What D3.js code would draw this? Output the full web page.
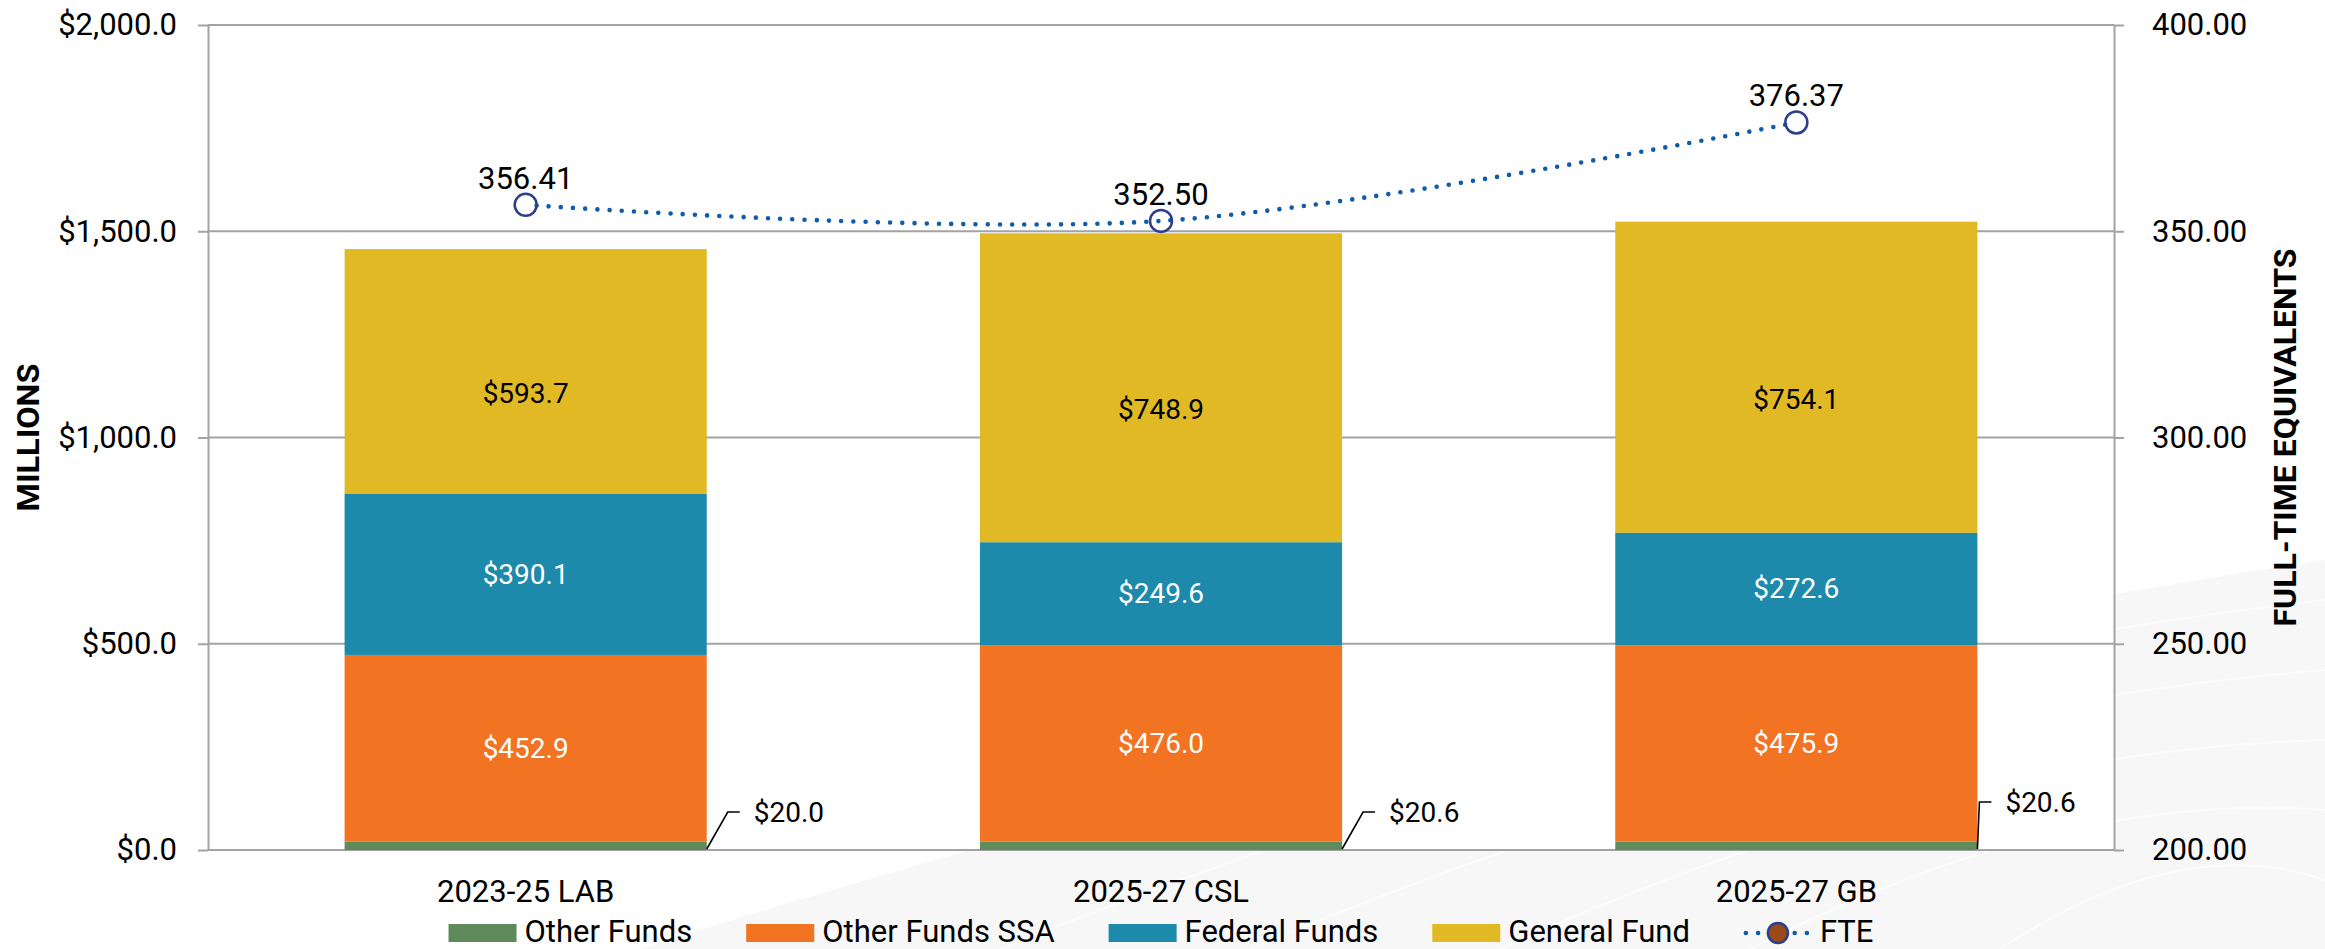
<!DOCTYPE html>
<html>
<head>
<meta charset="utf-8">
<script src="https://d3js.org/d3.v7.min.js"></script>
<style>
  body { margin: 0; background: #fff; }
  svg { display: block; font-family: Roboto, "Liberation Sans", sans-serif; }
</style>
</head>
<body>
<div id="chart"></div>
<script>
// data
var categories = ["2023-25 LAB", "2025-27 CSL", "2025-27 GB"];
var otherFunds = [20.0, 20.6, 20.6];
var otherFundsSSA = [452.9, 476.0, 475.9];
var federalFunds = [390.1, 249.6, 272.6];
var generalFund = [593.7, 748.9, 754.1];
var fte = [356.41, 352.50, 376.37];
var moneyTicks = [0, 500, 1000, 1500, 2000];
var fteTicks = [200, 250, 300, 350, 400];
var seriesNames = ["Other Funds", "Other Funds SSA", "Federal Funds", "General Fund"];

var seriesColors = ["#5f8a5b", "#f27322", "#1d8aab", "#e0b925"];
var labelColors = ["#000", "#fff", "#fff", "#000"];
var labelShift = [0, 0, 0, 22]; // general fund labels sit a bit low in the original
// leader lines of the small "other funds" labels
var leaderRun = [21, 21, 2];
var leaderRise = [37, 37, 47];

var width = 2325, height = 949;
var margin = {top: 25, right: 211, bottom: 99, left: 208};
var plotW = width - margin.left - margin.right;
var plotB = height - margin.bottom;

var svg = d3.select("#chart").append("svg")
  .attr("width", width)
  .attr("height", height);

// faint background swoosh
svg.append("path")
  .attr("d", "M640,949 C1200,770 1800,640 2325,560 L2325,949 Z")
  .attr("fill", "#f7f7f7");
[0, 1, 2, 3, 4].forEach(function(k) {
  svg.append("path")
    .attr("d", "M" + (1000 + k * 250) + ",949 Q" + (1700 + k * 120) + "," + (670 + k * 40) + " 2325," + (600 + k * 70))
    .attr("fill", "none")
    .attr("stroke", "#fff")
    .attr("stroke-width", 2)
    .attr("opacity", 0.6);
});

svg.append("rect")
  .attr("x", margin.left)
  .attr("y", margin.top)
  .attr("width", plotW)
  .attr("height", plotB - margin.top)
  .attr("fill", "#fff");

var x = d3.scaleBand()
  .domain(categories)
  .range([margin.left, margin.left + plotW])
  .paddingInner(0.43)
  .paddingOuter(0.215);

var yL = d3.scaleLinear().domain([0, 2000]).range([plotB, margin.top]);
var yR = d3.scaleLinear().domain([200, 400]).range([plotB, margin.top]);

//Gridlines
svg.append("g")
  .selectAll("line")
  .data(moneyTicks)
  .enter()
  .append("line")
  .attr("x1", margin.left)
  .attr("x2", margin.left + plotW)
  .attr("y1", function(d) { return yL(d); })
  .attr("y2", function(d) { return yL(d); })
  .attr("stroke", "#a3a3a3")
  .attr("stroke-width", 2);

//Left axis
var leftAxis = svg.append("g")
  .attr("transform", "translate(" + margin.left + ",0)")
  .call(d3.axisLeft(yL)
    .tickValues(moneyTicks)
    .tickSizeInner(10)
    .tickSizeOuter(0)
    .tickPadding(21)
    .tickFormat(function(d) { return "$" + d3.format(",.1f")(d); }));

//Right axis
var rightAxis = svg.append("g")
  .attr("transform", "translate(" + (margin.left + plotW) + ",0)")
  .call(d3.axisRight(yR)
    .tickValues(fteTicks)
    .tickSizeInner(10)
    .tickSizeOuter(0)
    .tickPadding(28)
    .tickFormat(d3.format(".2f")));

[leftAxis, rightAxis].forEach(function(ax) {
  ax.selectAll("path.domain").attr("stroke", "#a3a3a3").attr("stroke-width", 2);
  ax.selectAll(".tick line").attr("stroke", "#a3a3a3").attr("stroke-width", 2);
  ax.selectAll("text")
    .attr("font-size", 31)
    .attr("font-family", "Roboto, sans-serif")
    .attr("fill", "#000");
});

//Category axis
var bottomAxis = svg.append("g")
  .attr("transform", "translate(0," + plotB + ")")
  .call(d3.axisBottom(x).tickSize(0).tickPadding(30));
bottomAxis.select(".domain").remove();
bottomAxis.selectAll("text")
  .attr("font-size", 31)
  .attr("font-family", "Roboto, sans-serif")
  .attr("fill", "#000");

//Axis titles
svg.append("text")
  .attr("transform", "translate(28," + ((margin.top + plotB) / 2) + ") rotate(-90)")
  .attr("text-anchor", "middle")
  .attr("dominant-baseline", "central")
  .attr("font-size", 32)
  .attr("font-weight", "bold")
  .attr("textLength", 148)
  .attr("lengthAdjust", "spacingAndGlyphs")
  .text("MILLIONS");

svg.append("text")
  .attr("transform", "translate(2285," + ((margin.top + plotB) / 2) + ") rotate(-90)")
  .attr("text-anchor", "middle")
  .attr("dominant-baseline", "central")
  .attr("font-size", 32)
  .attr("font-weight", "bold")
  .attr("textLength", 378)
  .attr("lengthAdjust", "spacingAndGlyphs")
  .text("FULL-TIME EQUIVALENTS");

//Stacked bars
var rows = categories.map(function(c, i) {
  return {
    cat: c,
    "Other Funds": otherFunds[i],
    "Other Funds SSA": otherFundsSSA[i],
    "Federal Funds": federalFunds[i],
    "General Fund": generalFund[i]
  };
});
var stacked = d3.stack().keys(seriesNames)(rows);

var layers = svg.append("g")
  .selectAll("g")
  .data(stacked)
  .enter()
  .append("g")
  .attr("fill", function(d, i) { return seriesColors[i]; });

layers.selectAll("rect")
  .data(function(d) { return d; })
  .enter()
  .append("rect")
  .attr("x", function(d) { return x(d.data.cat); })
  .attr("y", function(d) { return yL(d[1]); })
  .attr("width", x.bandwidth())
  .attr("height", function(d) { return yL(d[0]) - yL(d[1]); });

// labels inside the bigger segments
stacked.forEach(function(layer, s) {
  if (s === 0) return;
  svg.append("g")
    .selectAll("text")
    .data(layer)
    .enter()
    .append("text")
    .attr("x", function(d) { return x(d.data.cat) + x.bandwidth() / 2; })
    .attr("y", function(d) { return yL((d[0] + d[1]) / 2) + labelShift[s]; })
    .attr("text-anchor", "middle")
    .attr("dominant-baseline", "central")
    .attr("font-size", 28)
    .attr("fill", labelColors[s])
    .text(function(d) { return "$" + d3.format(".1f")(d[1] - d[0]); });
});

// small other funds labels with leader lines
stacked[0].forEach(function(d, i) {
  var x0 = x(d.data.cat) + x.bandwidth();
  var y0 = yL(d[0]) - 1;
  var x1 = x0 + leaderRun[i];
  var y1 = y0 - leaderRise[i];
  svg.append("path")
    .attr("d", "M" + x0 + "," + y0 + " L" + x1 + "," + y1 + " L" + (x1 + 12) + "," + y1)
    .attr("fill", "none")
    .attr("stroke", "#000")
    .attr("stroke-width", 1.6);
  svg.append("text")
    .attr("x", x1 + 26)
    .attr("y", y1)
    .attr("dominant-baseline", "central")
    .attr("font-size", 28)
    .attr("fill", "#000")
    .text("$" + d3.format(".1f")(d[1] - d[0]));
});

//FTE line
var ftePoints = categories.map(function(c, i) {
  return [x(c) + x.bandwidth() / 2, yR(fte[i])];
});

svg.append("path")
  .attr("d", d3.line().curve(d3.curveCardinal.tension(0))(ftePoints))
  .attr("fill", "none")
  .attr("stroke", "#0f5ca8")
  .attr("stroke-width", 4.6)
  .attr("stroke-linecap", "round")
  .attr("stroke-dasharray", "0 12.2")
  .attr("stroke-dashoffset", 1.2);

svg.append("g")
  .selectAll("circle")
  .data(ftePoints)
  .enter()
  .append("circle")
  .attr("cx", function(d) { return d[0]; })
  .attr("cy", function(d) { return d[1]; })
  .attr("r", 11)
  .attr("fill", "none")
  .attr("stroke", "#2b3f8c")
  .attr("stroke-width", 2.5);

svg.append("g")
  .selectAll("text")
  .data(ftePoints)
  .enter()
  .append("text")
  .attr("x", function(d) { return d[0]; })
  .attr("y", function(d) { return d[1] - 16; })
  .attr("text-anchor", "middle")
  .attr("font-size", 31)
  .attr("fill", "#000")
  .text(function(d, i) { return d3.format(".2f")(fte[i]); });

//Legend
var legendItems = seriesNames.concat(["FTE"]);
var legend = svg.append("g");
var swW = 68, swH = 18, gapText = 8, gapItem = 54;
var legendBase = 942;
var cursor = 0;
legendItems.forEach(function(name, i) {
  var item = legend.append("g").attr("transform", "translate(" + cursor + ",0)");
  if (i < seriesNames.length) {
    item.append("rect")
      .attr("x", 0)
      .attr("y", legendBase - swH)
      .attr("width", swW)
      .attr("height", swH)
      .attr("fill", seriesColors[i]);
  } else {
    var my = legendBase - swH / 2;
    item.append("line")
      .attr("x1", 2).attr("x2", swW - 2)
      .attr("y1", my).attr("y2", my)
      .attr("stroke", "#0f5ca8")
      .attr("stroke-width", 4.6)
      .attr("stroke-linecap", "round")
      .attr("stroke-dasharray", "0 12.2");
    item.append("circle")
      .attr("cx", swW / 2)
      .attr("cy", my)
      .attr("r", 10)
      .attr("fill", "#9c4a16")
      .attr("stroke", "#2b3f8c")
      .attr("stroke-width", 2.5);
  }
  var t = item.append("text")
    .attr("x", swW + gapText)
    .attr("y", legendBase)
    .attr("font-size", 31)
    .attr("fill", "#000")
    .text(name);
  cursor += swW + gapText + t.node().getComputedTextLength() + gapItem;
});
var legendW = cursor - gapItem;
legend.attr("transform", "translate(" + (margin.left + plotW / 2 - legendW / 2) + ",0)");
</script>
</body>
</html>
